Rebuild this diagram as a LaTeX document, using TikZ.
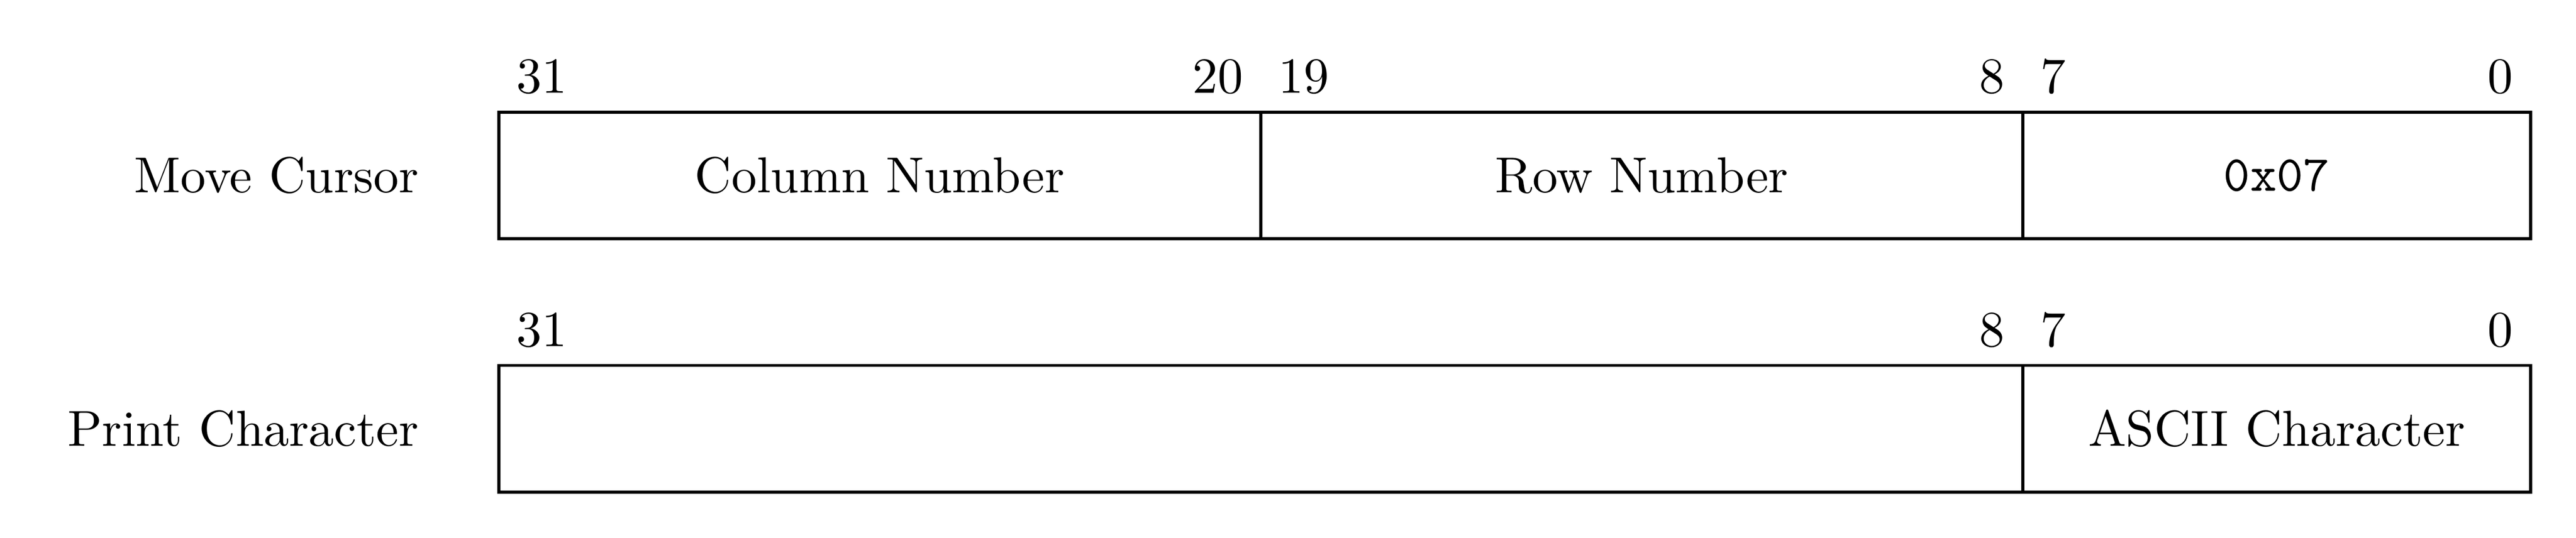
\documentclass[tikz,border=0pt]{standalone}
\usepackage{tikz}

\tikzset{
  field/.style={semithick},
  bitnum/.style={inner sep=0.333em},
  cmdname/.style={anchor=east}
}

\begin{document}
\begin{tikzpicture}[x=0.441cm,y=0.88cm]
%set diagram size
\useasboundingbox (-7.857,-2.361) rectangle (32.714,1.886);

%Shape: Move Cursor fields
\draw [field] (0,0) rectangle (12,1) node[midway] (colnum) {Column Number};
\draw [field] (12,0) rectangle (24,1) node[midway] (rownum) {Row Number};
\draw [field] (24,0) rectangle (32,1) node[midway] (opmove) {\texttt{0x07}};

%Shape: Print Character fields
\draw [field] (0,-2) rectangle (24,-1) node[midway] (unused) {};
\draw [field] (24,-2) rectangle (32,-1) node[midway] (ascii) {ASCII Character};

% Text Node
\node [cmdname] (move) at (-0.98,0.5) {Move Cursor};
% Text Node
\node [cmdname] (print) at (-0.98,-1.5) {Print Character};

% Bit numbers, Move Cursor
\node [bitnum,above right] (mb31) at (0,1) {31};
\node [bitnum,above left] (mb20) at (12,1) {20};
\node [bitnum,above right] (mb19) at (12,1) {19};
\node [bitnum,above left] (mb8) at (24,1) {8};
\node [bitnum,above right] (mb7) at (24,1) {7};
\node [bitnum,above left] (mb0) at (32,1) {0};

% Bit numbers, Print Character
\node [bitnum,above right] (pb31) at (0,-1) {31};
\node [bitnum,above left] (pb8) at (24,-1) {8};
\node [bitnum,above right] (pb7) at (24,-1) {7};
\node [bitnum,above left] (pb0) at (32,-1) {0};

\end{tikzpicture}
\end{document}
